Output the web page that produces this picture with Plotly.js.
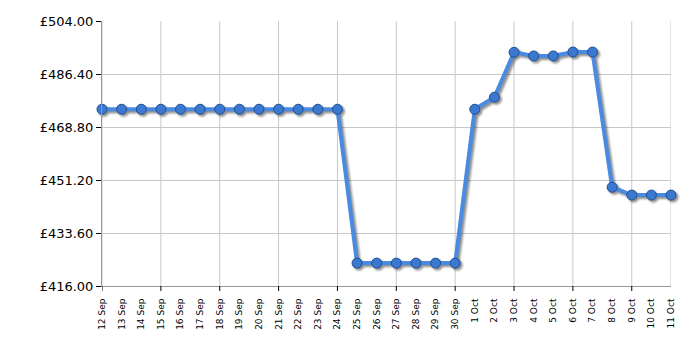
<!DOCTYPE html>
<html>
<head>
<meta charset="utf-8">
<script src="https://cdn.plot.ly/plotly-3.0.1.min.js"></script>
<style>
  html, body { margin: 0; padding: 0; background: #fff; }
  #chart { width: 700px; height: 350px; }
  .scatterlayer .trace { filter: drop-shadow(2px 2px 1px rgba(0,0,0,0.45)); }
</style>
</head>
<body>
<div id="chart"></div>
<script>
const dates = [
  "12 Sep","13 Sep","14 Sep","15 Sep","16 Sep","17 Sep","18 Sep","19 Sep","20 Sep","21 Sep",
  "22 Sep","23 Sep","24 Sep","25 Sep","26 Sep","27 Sep","28 Sep","29 Sep","30 Sep",
  "1 Oct","2 Oct","3 Oct","4 Oct","5 Oct","6 Oct","7 Oct","8 Oct","9 Oct","10 Oct","11 Oct"
];
const prices = [
  474.7, 474.7, 474.7, 474.7, 474.7, 474.7, 474.7, 474.7, 474.7, 474.7,
  474.7, 474.7, 474.7, 423.6, 423.6, 423.6, 423.6, 423.6, 423.6,
  474.7, 478.7, 493.6, 492.4, 492.4, 493.7, 493.7, 448.8, 446.2, 446.2, 446.2
];
const yMin = 416, yMax = 504, yStep = 17.6;
const gridEvery = 3;

const plotH = 350 - 21 - 64;
const shapes = [];
for (let i = 0; i < dates.length; i++) {
  const isGrid = (i % gridEvery === 0);
  const isLast = (i === dates.length - 1);
  if (isGrid || isLast) {
    shapes.push({ type: "line", layer: "below", xref: "x", yref: "paper",
      x0: dates[i], x1: dates[i], y0: 0, y1: 1,
      line: { color: "#c8c8c8", width: 1 } });
  }
  if (isGrid) {
    shapes.push({ type: "line", layer: "above", xref: "x", yref: "paper",
      x0: dates[i], x1: dates[i], y0: 0, y1: -5 / plotH,
      line: { color: "#000", width: 1 } });
  }
}

const trace = {
  x: dates,
  y: prices,
  type: "scatter",
  mode: "lines+markers",
  line: { color: "#4a8ae0", width: 4 },
  marker: { size: 10, color: "#3b78d0", line: { color: "#1f4f94", width: 1 } },
  cliponaxis: false,
  hoverinfo: "x+y"
};

const layout = {
  width: 700, height: 350,
  margin: { l: 102, r: 29, t: 21, b: 64, pad: 0 },
  paper_bgcolor: "#fff", plot_bgcolor: "#fff",
  showlegend: false,
  font: { family: "DejaVu Sans, Verdana, sans-serif", color: "#000" },
  shapes: shapes,
  xaxis: {
    type: "category",
    range: [0, dates.length - 1],
    showgrid: false,
    zeroline: false,
    showline: true, linecolor: "#999", linewidth: 1,
    ticks: "outside", ticklen: 8, tickcolor: "rgba(0,0,0,0)",
    tickangle: -90,
    tickfont: { size: 9, color: "#000" },
    fixedrange: true
  },
  yaxis: {
    range: [yMin, yMax],
    tick0: yMin, dtick: yStep,
    tickprefix: "£", tickformat: ".2f",
    showgrid: true, gridcolor: "#c8c8c8", gridwidth: 1,
    zeroline: false,
    showline: true, linecolor: "#999", linewidth: 1,
    ticks: "outside", ticklen: 5, tickcolor: "#000",
    tickfont: { size: 13, color: "#000" },
    fixedrange: true
  }
};

Plotly.newPlot("chart", [trace], layout, { displayModeBar: false, staticPlot: true });
</script>
</body>
</html>
